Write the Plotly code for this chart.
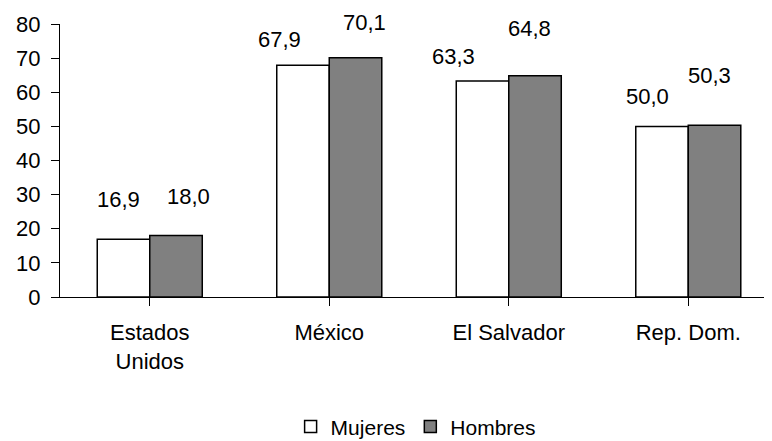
import plotly.graph_objects as go

categories = ["Estados<br>Unidos", "México", "El Salvador", "Rep. Dom."]
mujeres = [16.9, 67.9, 63.3, 50.0]
hombres = [18.0, 70.1, 64.8, 50.3]
mujeres_labels = ["16,9", "67,9", "63,3", "50,0"]
hombres_labels = ["18,0", "70,1", "64,8", "50,3"]
y_ticks = [0, 10, 20, 30, 40, 50, 60, 70, 80]

# label pixel offsets (style only)
muj_shift = [(-5, 40), (-24, 26), (-29, 24), (-15, 30)]
hom_shift = [(12, 39), (9, 35), (-6, 47), (-5, 50)]

FONT = "Liberation Sans, Arial, sans-serif"
FS = 22
BARGAP = 0.415

fig = go.Figure()
fig.add_trace(go.Bar(name="Mujeres", x=list(range(len(categories))), y=mujeres,
                     marker=dict(color="white", line=dict(color="black", width=1.5))))
fig.add_trace(go.Bar(name="Hombres", x=list(range(len(categories))), y=hombres,
                     marker=dict(color="#808080", line=dict(color="black", width=1.5))))

off = (1 - BARGAP) / 4
ann = []
for i in range(len(categories)):
    for vals, labs, shifts, sgn in ((mujeres, mujeres_labels, muj_shift, -1),
                                     (hombres, hombres_labels, hom_shift, 1)):
        ann.append(dict(x=i + sgn * off, y=vals[i], xref="x", yref="y", text=labs[i],
                        showarrow=False, xanchor="center", yanchor="middle",
                        xshift=shifts[i][0], yshift=shifts[i][1],
                        font=dict(family=FONT, size=FS, color="black")))

fig.update_layout(
    width=772, height=441,
    margin=dict(l=52, r=0, t=16, b=152, autoexpand=False),
    paper_bgcolor="white", plot_bgcolor="white",
    barmode="group", bargap=BARGAP, bargroupgap=0,
    font=dict(family=FONT, size=FS, color="black"),
    annotations=ann,
    showlegend=True,
    legend=dict(orientation="h", xref="container", yref="container",
                x=0.528, xanchor="center", y=0.05, yanchor="middle",
                font=dict(size=21), itemwidth=30, tracegroupgap=0),
    xaxis=dict(range=[-0.5, 3.511], tickmode="array", tickvals=list(range(len(categories))),
               ticktext=categories, showline=True, linecolor="black", linewidth=1,
               ticks="outside", ticklen=8, tickcolor="black", tickson="boundaries",
               ticklabelstandoff=8, showgrid=False, zeroline=False, automargin=False),
    yaxis=dict(range=[0, 80], tickmode="array", tickvals=y_ticks,
               showline=True, linecolor="black", linewidth=1,
               ticks="outside", ticklen=8, tickcolor="black",
               ticklabelstandoff=6, showgrid=False, zeroline=False, automargin=False),
)

fig.write_html("out.html")
